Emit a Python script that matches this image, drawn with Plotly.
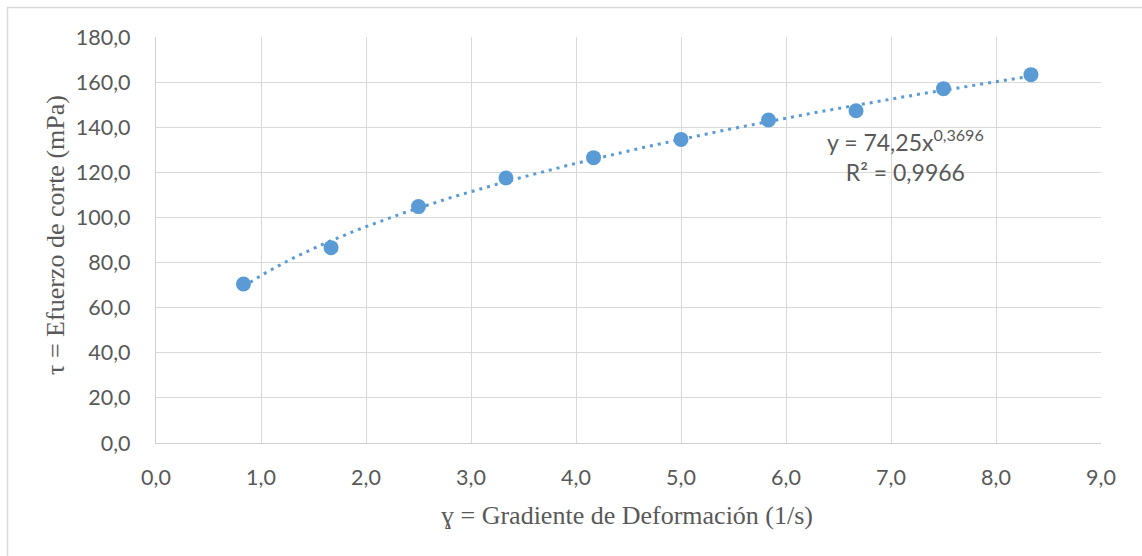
import numpy as np
import plotly.graph_objects as go

# Data
shear_rate = [0.833, 1.667, 2.5, 3.333, 4.167, 5.0, 5.833, 6.667, 7.5, 8.333]
shear_stress = [70.5, 86.6, 104.8, 117.5, 126.5, 134.6, 143.2, 147.3, 157.1, 163.3]

x_title = "ɣ = Gradiente de Deformación (1/s)"
y_title = "τ = Efuerzo de corte (mPa)"
eq_text = "y = 74,25x<sup>0,3696</sup><br>R² = 0,9966"

BLUE = "#5B9BD5"
GRID = "#D9D9D9"
TXT = "#595959"

# power trend line fitted to the data
xa = np.array(shear_rate)
ya = np.array(shear_stress)
b, loga = np.polyfit(np.log(xa), np.log(ya), 1)
xt = np.linspace(xa.min(), xa.max(), 200)
yt = np.exp(loga) * xt ** b

fig = go.Figure()
fig.add_trace(go.Scatter(x=xt, y=yt, mode="lines",
                         line=dict(color=BLUE, width=3, dash="3px,5px"),
                         hoverinfo="skip", showlegend=False))
fig.add_trace(go.Scatter(x=shear_rate, y=shear_stress, mode="markers",
                         marker=dict(color=BLUE, size=15),
                         showlegend=False))

L, R, T, B = 156, 41, 37, 113
W, H = 1142, 556
pw, ph = W - L - R, H - T - B

def px2x(p):
    return (p - L) / pw

def py2y(p):
    return (H - B - p) / ph

fig.update_layout(
    width=W, height=H,
    margin=dict(l=L, r=R, t=T, b=B),
    paper_bgcolor="white", plot_bgcolor="white",
    separators=",.",
    font=dict(family="Lato", color=TXT, size=21),
    xaxis=dict(range=[0, 9], dtick=1, tick0=0, tickformat=".1f",
               showgrid=True, gridcolor=GRID, gridwidth=1.3,
               showline=True, linecolor="#D0D0D0", linewidth=1.3,
               zeroline=False, ticks="", ticklabelstandoff=15,
               tickfont=dict(family="Lato", size=21.5, color=TXT)),
    yaxis=dict(range=[0, 180], dtick=20, tick0=0, tickformat=".1f",
               showgrid=True, gridcolor=GRID, gridwidth=1.3,
               showline=True, linecolor="#D0D0D0", linewidth=1.3,
               zeroline=False, ticks="", ticklabelstandoff=20,
               tickfont=dict(family="Lato", size=21.5, color=TXT)),
    annotations=[
        dict(text=x_title, xref="paper", yref="paper", x=px2x(627), y=py2y(515),
             xanchor="center", yanchor="middle", showarrow=False,
             font=dict(family="Liberation Serif", size=26, color=TXT)),
        dict(text=y_title, xref="paper", yref="paper", x=px2x(56), y=py2y(235),
             xanchor="center", yanchor="middle", showarrow=False, textangle=-90,
             font=dict(family="Liberation Serif", size=26, color=TXT)),
        dict(text=eq_text, xref="paper", yref="paper", x=px2x(905), y=py2y(155),
             xanchor="center", yanchor="middle", showarrow=False, align="center",
             font=dict(family="Lato", size=23, color=TXT)),
    ],
    shapes=[
        dict(type="rect", xref="paper", yref="paper",
             x0=px2x(7.5), x1=px2x(1160), y0=py2y(580), y1=py2y(7.5),
             line=dict(color=GRID, width=1.5), fillcolor="rgba(0,0,0,0)",
             layer="below"),
    ],
)

fig.write_html("out.html")
